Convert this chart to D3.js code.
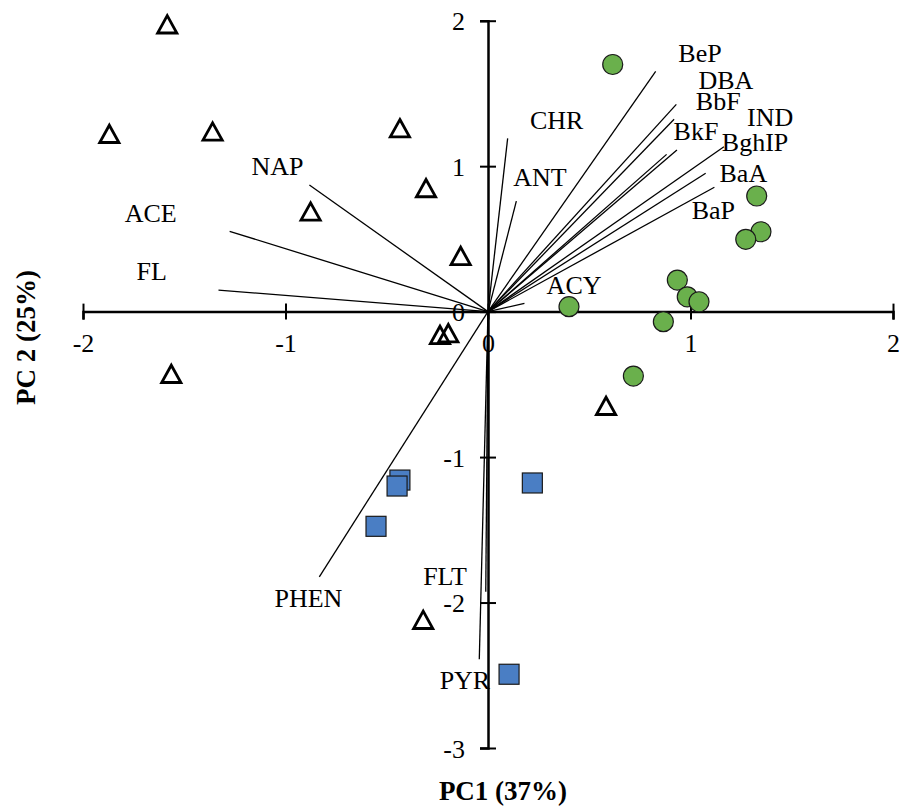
<!DOCTYPE html>
<html>
<head>
<meta charset="utf-8">
<script src="https://cdn.jsdelivr.net/npm/d3@7"></script>
<style>
  html, body { margin: 0; padding: 0; background: #fff; }
  svg { display: block; }
  text { font-family: "Liberation Serif", "Times New Roman", serif; fill: #000; }
</style>
</head>
<body>
<svg id="chart" width="910" height="809"></svg>
<script>
// ---- Data ----
// Sample scores (PC1, PC2) by group
const triPC1 = [-1.584, -1.870, -1.360, -0.435, -0.876, -0.306, -0.135, -0.237, -0.196, -1.564, 0.583, -0.320];
const triPC2 = [ 1.974,  1.221,  1.237,  1.260,  0.687,  0.848,  0.382, -0.161, -0.149, -0.429, -0.649, -2.120];

const cirPC1 = [0.616, 1.327, 1.348, 1.273, 0.935, 0.984, 1.042, 0.400, 0.866, 0.718];
const cirPC2 = [1.699, 0.795, 0.549, 0.497, 0.217, 0.102, 0.068, 0.034, -0.069, -0.443];

const sqPC1 = [-0.435, -0.449, -0.553, 0.219, 0.104];
const sqPC2 = [-1.158, -1.199, -1.476, -1.178, -2.493];

// Variable loadings (end points of vectors from origin)
const loadNames = ["BeP", "DBA", "BbF", "IND", "BkF", "BghIP", "BaA", "BaP", "CHR", "ANT", "ACY", "NAP", "ACE", "FL", "PHEN", "FLT", "PYR"];
const loadPC1   = [0.828, 0.930, 0.919, 0.882, 0.933, 1.165, 1.075, 1.118, 0.097, 0.140, 0.180, -0.882, -1.276, -1.331, -0.833, -0.011, -0.043];
const loadPC2   = [1.652, 1.425, 1.322, 1.081, 1.111, 1.134, 0.951, 0.855, 1.191, 0.760, 0.057, 0.870, 0.552, 0.148, -1.823, -1.926, -2.390];
// Label anchor locations (in PC units)
const labelPC1  = [1.047, 1.175, 1.137, 1.393, 1.027, 1.319, 1.261, 1.113, 0.339, 0.257, 0.425, -1.040, -1.666, -1.661, -0.887, -0.212, -0.114];
const labelPC2  = [1.776, 1.592, 1.443, 1.336, 1.237, 1.161, 0.951, 0.694, 1.312, 0.923, 0.183, 0.996, 0.676, 0.274, -1.971, -1.818, -2.537];

const xTicks = [-2, -1, 0, 1, 2];
const yTicks = [-3, -2, -1, 0, 1, 2];
const xTitle = "PC1 (37%)";
const yTitle = "PC 2 (25%)";

// ---- Chart ----
const svg = d3.select("#chart");
const x = d3.scaleLinear().domain([-2, 2]).range([83, 893]);
const y = d3.scaleLinear().domain([-3, 2]).range([748, 20.7]);

const FS = 26;
const fmt = d => String(d);

// X axis through y=0
const xAxis = svg.append("g")
  .attr("transform", `translate(0,${y(0)})`)
  .call(d3.axisBottom(x).tickValues(xTicks).tickFormat(fmt).tickSizeOuter(0).tickSize(8));
xAxis.select(".domain").attr("stroke", "#000").attr("stroke-width", 2.5);
xAxis.selectAll(".tick line").attr("y1", -8).attr("y2", 8).attr("stroke", "#000").attr("stroke-width", 2);
xAxis.selectAll(".tick text")
  .attr("y", 40).attr("dy", 0)
  .style("font-family", "'Liberation Serif', serif").style("font-size", FS + "px").attr("fill", "#000");

// Y axis through x=0
const yAxis = svg.append("g")
  .attr("transform", `translate(${x(0)},0)`)
  .call(d3.axisLeft(y).tickValues(yTicks).tickFormat(fmt).tickSizeOuter(0).tickSize(8));
yAxis.select(".domain").attr("stroke", "#000").attr("stroke-width", 2.5);
yAxis.selectAll(".tick line").attr("x1", -8).attr("x2", 8).attr("stroke", "#000").attr("stroke-width", 2);
yAxis.selectAll(".tick text")
  .attr("x", -23).attr("dy", "0.35em")
  .style("font-family", "'Liberation Serif', serif").style("font-size", FS + "px").attr("fill", "#000");

// Loading vectors
const loadings = loadNames.map((n, i) => ({ n, x: loadPC1[i], y: loadPC2[i], lx: labelPC1[i], ly: labelPC2[i] }));
svg.append("g").selectAll("line").data(loadings).join("line")
  .attr("x1", x(0)).attr("y1", y(0))
  .attr("x2", d => x(d.x)).attr("y2", d => y(d.y))
  .attr("stroke", "#000").attr("stroke-width", 1.3);

svg.append("g").selectAll("text").data(loadings).join("text")
  .attr("x", d => x(d.lx)).attr("y", d => y(d.ly))
  .attr("dy", "0.33em")
  .attr("text-anchor", "middle")
  .style("font-size", FS + "px")
  .text(d => d.n);

// Triangles (open)
const tri = triPC1.map((v, i) => ({ x: v, y: triPC2[i] }));
svg.append("g").selectAll("path").data(tri).join("path")
  .attr("transform", d => `translate(${x(d.x)},${y(d.y)})`)
  .attr("d", "M0,-8.8L9.6,8.5L-9.6,8.5Z")
  .attr("fill", "none").attr("stroke", "#000").attr("stroke-width", 2.8)
  .attr("stroke-linejoin", "miter");

// Circles
const cir = cirPC1.map((v, i) => ({ x: v, y: cirPC2[i] }));
svg.append("g").selectAll("circle").data(cir).join("circle")
  .attr("cx", d => x(d.x)).attr("cy", d => y(d.y)).attr("r", 10)
  .attr("fill", "#6ab04c").attr("stroke", "#1a1a1a").attr("stroke-width", 1.2);

// Squares
const sq = sqPC1.map((v, i) => ({ x: v, y: sqPC2[i] }));
svg.append("g").selectAll("rect").data(sq).join("rect")
  .attr("x", d => x(d.x) - 10).attr("y", d => y(d.y) - 10)
  .attr("width", 20).attr("height", 20)
  .attr("fill", "#4a7ec4").attr("stroke", "#1a1a1a").attr("stroke-width", 1.2);

// Axis titles
svg.append("text")
  .attr("x", 503).attr("y", 800)
  .attr("text-anchor", "middle")
  .style("font-size", "27px").style("font-weight", "bold")
  .text(xTitle);

svg.append("text")
  .attr("transform", "translate(35,337.5) rotate(-90)")
  .attr("text-anchor", "middle")
  .style("font-size", "27px").style("font-weight", "bold")
  .text(yTitle);
</script>
</body>
</html>
